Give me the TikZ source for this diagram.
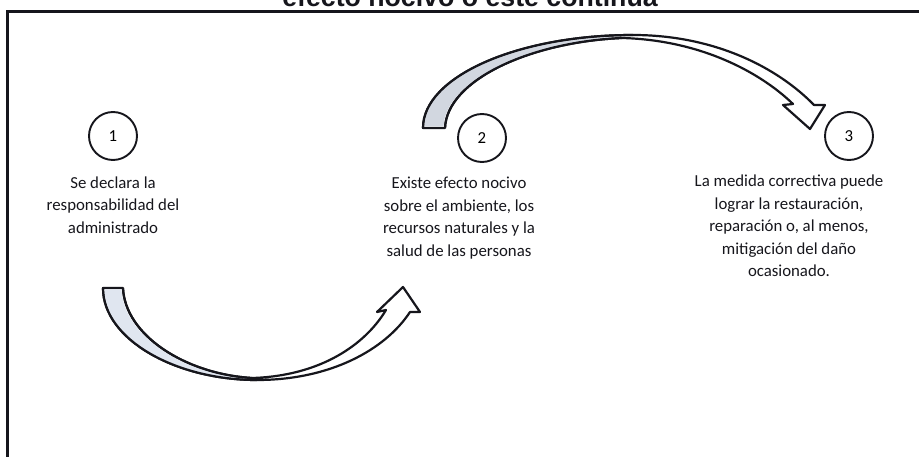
\documentclass[tikz,border=0pt]{standalone}
\usepackage{fontspec}
\setmainfont{Carlito}
\newfontfamily\titlefont{Liberation Sans}
\definecolor{ink}{RGB}{22,22,28}
\definecolor{backband}{RGB}{210,215,224}
\definecolor{backbandlight}{RGB}{224,230,240}
\tikzset{
  numcircle/.style={circle, draw=ink, line width=1.9pt, minimum size=48pt, inner sep=0pt, font=\fontsize{16.8}{20}\selectfont},
  stepbody/.style={align=center, inner sep=0pt, font=\fontsize{16.8}{22.6}\selectfont, text=ink},
  blockarrow/.style={draw=ink, line width=2.2pt, line join=round, fill=white},
  backfill/.style={fill=backband, draw=none}
}
\begin{document}
\begin{tikzpicture}[x=1pt,y=-1pt]
\useasboundingbox (0,0) rectangle (919,457);
\clip (0,0) rectangle (919,457);
\fill[white] (0,0) rectangle (919,457);
% title (cut at the top edge)
\node[anchor=base, inner sep=0pt, font=\titlefont\bfseries\fontsize{26.7}{30}\selectfont, text=ink] (title) at (470,6.5) {efecto nocivo o este continúa};
% frame
\draw[ink, line width=3pt] (7,460) -- (7,12) -- (925,12);
% circles
\node[numcircle] (c1) at (113,136) {1};
\node[numcircle] (c2) at (482,138) {2};
\node[numcircle] (c3) at (849,136) {3};
% texts
\node[stepbody] (t1) at (113,205) {Se declara la\\responsabilidad del\\administrado};
\node[stepbody] (t2) at (459,218) {Existe efecto nocivo\\sobre el ambiente, los\\recursos naturales y la\\salud de las personas};
\node[stepbody] (t3) at (789,226) {La medida correctiva puede\\lograr la restauración,\\reparación o, al menos,\\mitigación del daño\\ocasionado.};
% bottom curved arrow (1 -> 2)
\draw[blockarrow] (103,288) -- (123,288)
  .. controls (125,335) and (185,374) .. (252,378)
  .. controls (320,376) and (365,345) .. (386,310)
  -- (377,312) -- (403,287) -- (420,312) -- (410,312)
  .. controls (385,350) and (330,380) .. (257,380)
  .. controls (175,380) and (103,339) .. (103,288) -- cycle;
\fill[backbandlight] (104.5,289.5) -- (121.5,289.5)
  .. controls (123.5,336) and (185,375.5) .. (252,379)
  .. controls (175,378.5) and (104.5,339) .. (104.5,289.5) -- cycle;
\draw[ink, line width=2.2pt] (123,288) .. controls (125,335) and (185,374) .. (252,378);
\draw[ink, line width=2.2pt, line join=round] (103,288) -- (123,288);
\draw[ink, line width=2.2pt] (257,380) .. controls (175,380) and (103,339) .. (103,288);
% top curved arrow (2 -> 3)
\draw[blockarrow] (423,128)
  .. controls (423,77) and (517,35) .. (633,35)
  .. controls (715,35) and (778,68) .. (814,105)
  -- (825,105) -- (810,129) -- (783,105) -- (793,104)
  .. controls (760,72) and (700,40) .. (622,38)
  .. controls (530,42) and (447,80) .. (445,128) -- cycle;
\fill[backfill] (424.5,126.5)
  .. controls (424.5,78) and (517,36.5) .. (628,36.5)
  .. controls (530,40.5) and (445.5,80) .. (443.5,126.5) -- cycle;
\draw[ink, line width=2.2pt] (423,128) .. controls (423,77) and (517,35) .. (633,35);
\draw[ink, line width=2.2pt] (622,38) .. controls (530,42) and (447,80) .. (445,128);
\draw[ink, line width=2.2pt, line join=round] (423,128) -- (445,128);
\end{tikzpicture}
\end{document}
